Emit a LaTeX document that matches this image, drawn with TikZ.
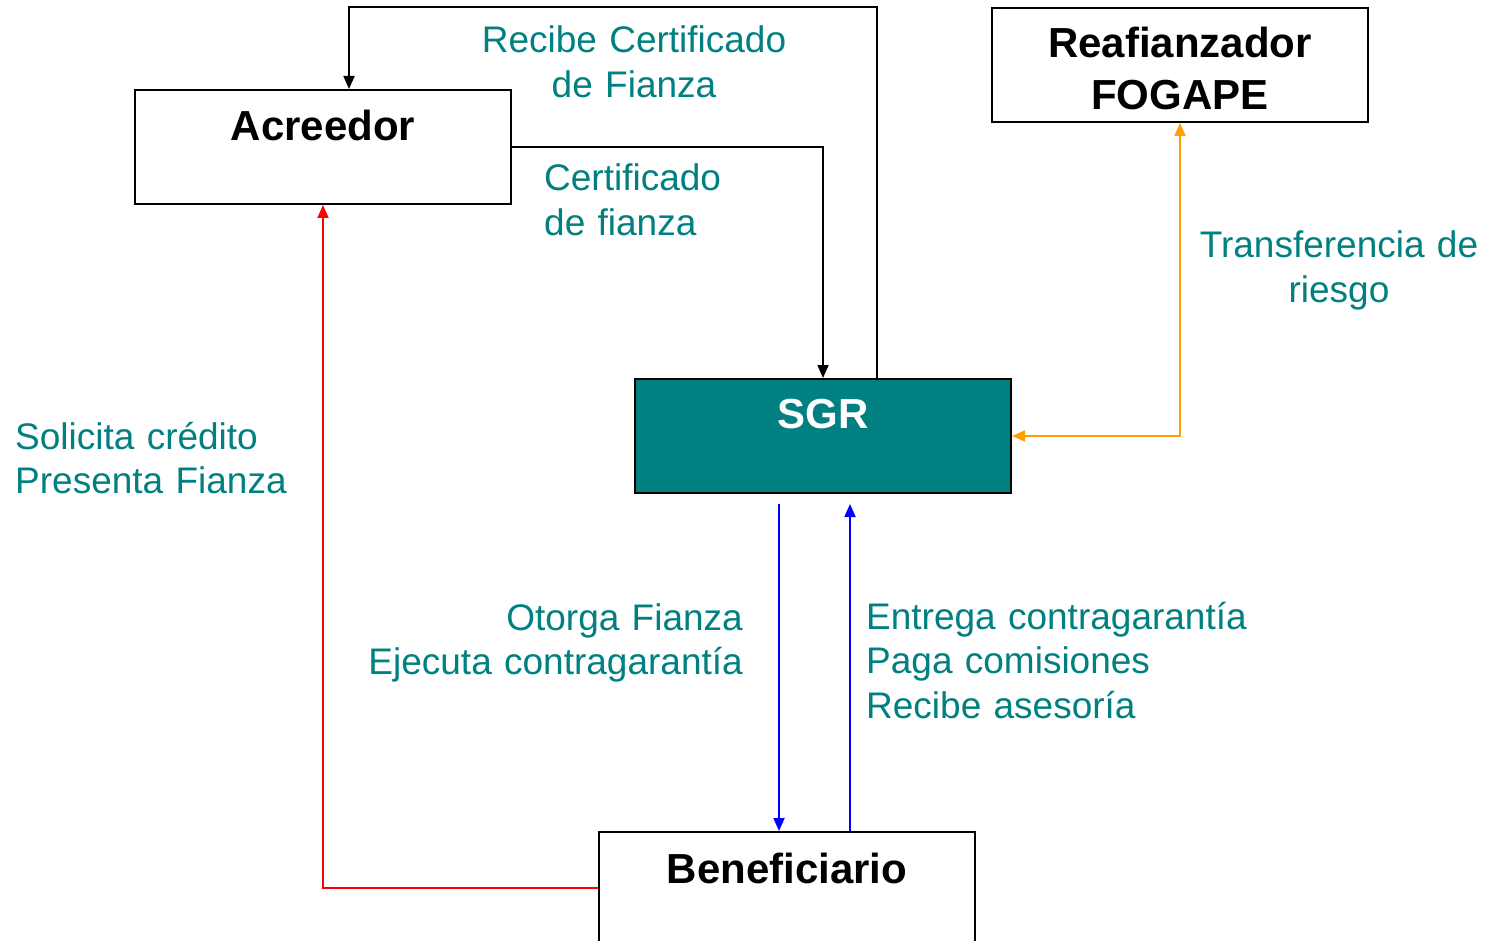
\documentclass[tikz,border=0pt]{standalone}
\usepackage{fontspec}
\setmainfont{Liberation Sans}
\usetikzlibrary{arrows.meta}
\definecolor{tealc}{RGB}{0,128,128}
\definecolor{orangec}{RGB}{255,160,0}
\begin{document}
\begin{tikzpicture}[x=1pt,y=-1pt,
  box/.style={draw, line width=2pt, minimum width=376pt, minimum height=114pt, inner sep=0pt, anchor=north west},
  boxtxt/.style={font=\fontsize{42}{52}\selectfont\bfseries, inner sep=0pt, anchor=base, text width=376pt, align=center},
  lbl/.style={font=\fontsize{37}{44.5}\selectfont, text=tealc, inner sep=0pt, text width=450pt},
  conn/.style={line width=1.8pt, -{Triangle[length=13pt,width=11pt]}},
]
\useasboundingbox (0,0) rectangle (1486,941);
\fill[white] (0,0) rectangle (1486,941);

% boxes
\node[box] (acr) at (134,89) {};
\node[box] (rea) at (991,7) {};
\node[box, fill=tealc] (sgr) at (634,378) {};
\node[box, minimum height=112pt] (ben) at (598,831) {};

\node[boxtxt] (acrt) at ([yshift=-52pt]acr.north) {Acreedor};
\node[boxtxt] (reat) at ([yshift=-51pt]rea.north) {Reafianzador\\FOGAPE};
\node[boxtxt, text=white] (sgrt) at ([yshift=-50pt]sgr.north) {SGR};
\node[boxtxt] (bent) at ([yshift=-52pt]ben.north) {Beneficiario};

% labels
\node[lbl, align=center, anchor=base] (l1) at (634,53) {Recibe Certificado\\de Fianza};
\node[lbl, align=left, anchor=base west] (l2) at (544,191) {Certificado\\de fianza};
\node[lbl, align=center, anchor=base] (l3) at (1339,258) {Transferencia de\\riesgo};
\node[lbl, align=left, anchor=base west] (l4) at (15,449) {Solicita crédito\\Presenta Fianza};
\node[lbl, align=right, anchor=base east] (l5) at (743,630) {Otorga Fianza\\Ejecuta contragarantía};
\node[lbl, align=left, anchor=base west] (l6) at (866,629) {Entrega contragarantía\\Paga comisiones\\Recibe asesoría};

% connectors
\coordinate (topy) at (349,7);
\draw[conn] (acr.east) -| (sgr.north);
\draw[conn] ([xshift=54pt]sgr.north) |- (topy) -- (topy |- acr.north);
\draw[conn, orangec, {Triangle[length=13pt,width=11pt]}-{Triangle[length=13pt,width=11pt]}] (sgr.east) -| (rea.south);
\draw[conn, blue] ([xshift=-44pt,yshift=-10pt]sgr.south) -- ([xshift=-44pt]sgr.south |- ben.north);
\draw[conn, blue] ([xshift=27pt]sgr.south |- ben.north) -- ([xshift=27pt,yshift=-10pt]sgr.south);
\draw[conn, red] (ben.west) -| (acr.south);
\end{tikzpicture}
\end{document}
